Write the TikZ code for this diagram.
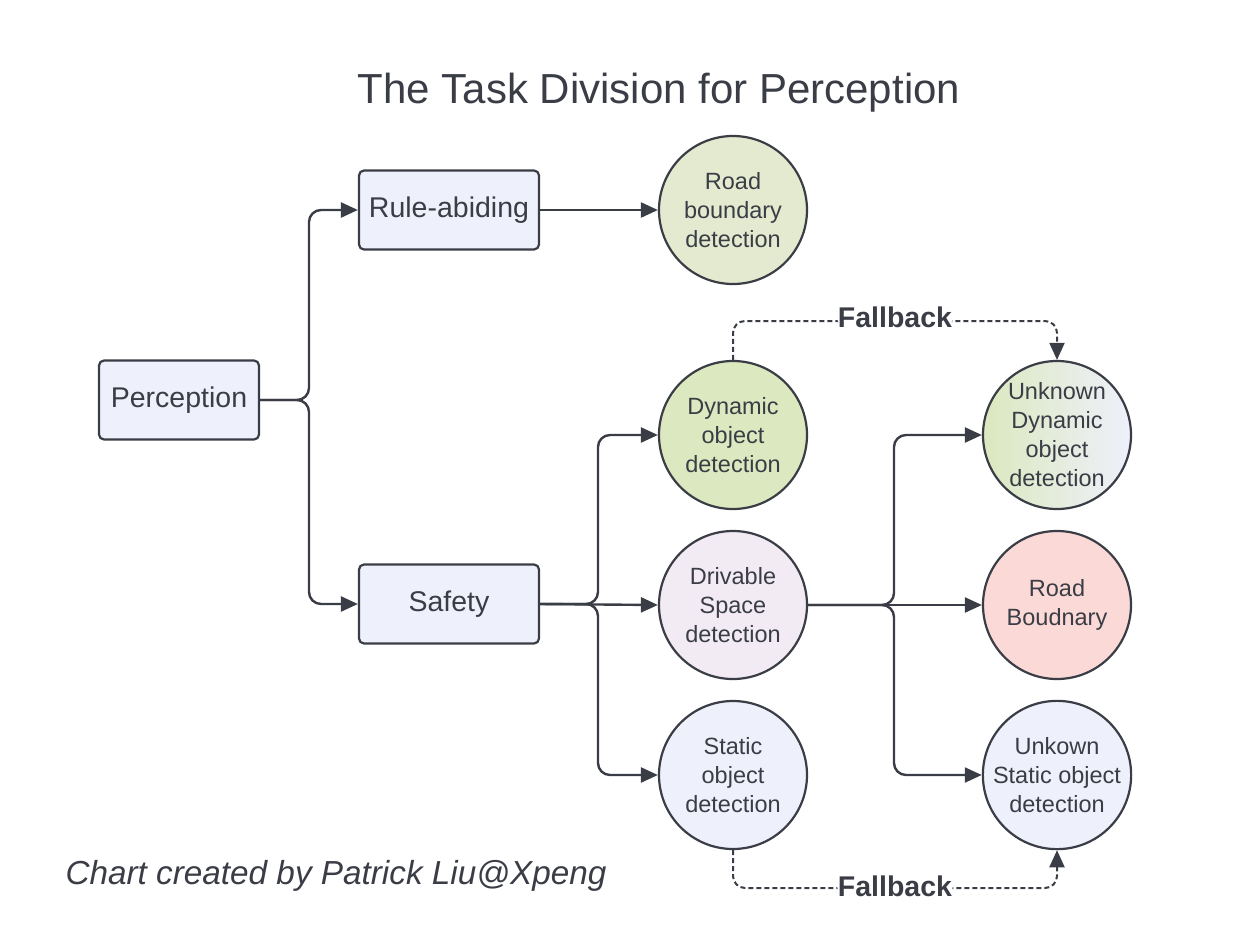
\documentclass[tikz,border=0pt]{standalone}
\usepackage{fontspec}
\setmainfont{Liberation Sans}
\usetikzlibrary{arrows.meta,calc}
\definecolor{inkgray}{HTML}{3A3D45}
\definecolor{boxfill}{HTML}{EEF0FB}
\definecolor{dyngreen}{HTML}{DCE8BF}
\definecolor{roadgreen}{HTML}{E4EACF}
\definecolor{drivefill}{HTML}{F2EBF3}
\definecolor{roadpink}{HTML}{FAD9D7}
\tikzset{
  taskbox/.style={rectangle, rounded corners=5pt, draw=inkgray, line width=2.2pt, fill=boxfill,
    minimum width=180pt, minimum height=79pt, text=inkgray, font=\fontsize{28.5}{32}\selectfont},
  taskcirc/.style={circle, draw=inkgray, line width=2.2pt, minimum size=148pt, inner sep=0pt,
    align=center, text=inkgray, font=\fontsize{23.5}{29}\selectfont},
  link/.style={draw=inkgray, line width=2.4pt, rounded corners=12pt,
    -{Triangle[length=17pt,width=15pt]}},
  fallback/.style={link, line width=2pt, dash pattern=on 5pt off 3pt},
  fblabel/.style={fill=white, inner sep=1pt, text=inkgray, font=\bfseries\fontsize{28.5}{32}\selectfont}
}
\begin{document}
\begin{tikzpicture}[x=1pt, y=-1pt]
			%%%%% START %%%%%
			\useasboundingbox (0,0) rectangle (1254,948);
			
			\node[text=inkgray, font=\fontsize{42}{48}\selectfont] (title) at (659,93) {The Task Division for Perception};
			
			\node[taskbox, minimum width=160pt] (perc) at (179,400) {Perception};
			\node[taskbox] (rule) at (449,210) {Rule-abiding};
			\node[taskbox] (safe) at (449,604) {Safety};
			
			\node[taskcirc, fill=roadgreen] (roadbd) at (733,210) {Road\\boundary\\detection};
			\node[taskcirc, fill=dyngreen] (dyn) at (733,435) {Dynamic\\object\\detection};
			\node[taskcirc, fill=drivefill] (drive) at (733,605) {Drivable\\Space\\detection};
			\node[taskcirc, fill=boxfill] (stat) at (733,775) {Static\\object\\detection};
			
			\node[taskcirc, left color=dyngreen, right color=boxfill] (udyn) at (1057,435) {Unknown\\Dynamic\\object\\detection};
			\node[taskcirc, fill=roadpink] (roadbn) at (1057,605) {Road\\Boudnary};
			\node[taskcirc, fill=boxfill] (ustat) at (1057,775) {Unkown\\Static object\\detection};
			
			% branch points
			\coordinate (jperc) at (309,400);
			\coordinate (jsafe) at (598,604);
			\coordinate (jdrive) at (894,605);
			\coordinate (fbtop) at (733,321);
			\coordinate (fbbot) at (733,888);
			
			\draw[link] (perc.east) -- (jperc) |- (rule.west);
			\draw[link] (perc.east) -- (jperc) |- (safe.west);
			\draw[link] (rule.east) -- (roadbd.west);
			
			\draw[link] (safe.east) -- (jsafe) |- (dyn.west);
			\draw[link] (safe.east) -- (drive.west);
			\draw[link] (safe.east) -- (jsafe) |- (stat.west);
			
			\draw[link] (drive.east) -- (jdrive) |- (udyn.west);
			\draw[link] (drive.east) -- (roadbn.west);
			\draw[link] (drive.east) -- (jdrive) |- (ustat.west);
			
			\draw[fallback] (dyn.north) -- (fbtop) -| node[pos=0.25, fblabel, yshift=4pt] (fbone) {Fallback} (udyn.north);
			\draw[fallback] (stat.south) -- (fbbot) -| node[pos=0.25, fblabel, yshift=2pt] (fbtwo) {Fallback} (ustat.south);
			
			\node[anchor=west, text=inkgray, font=\itshape\fontsize{33.3}{38}\selectfont] (credit) at (62,876) {Chart created by Patrick Liu@Xpeng};
			%%%%% END %%%%%
\end{tikzpicture}
\end{document}
